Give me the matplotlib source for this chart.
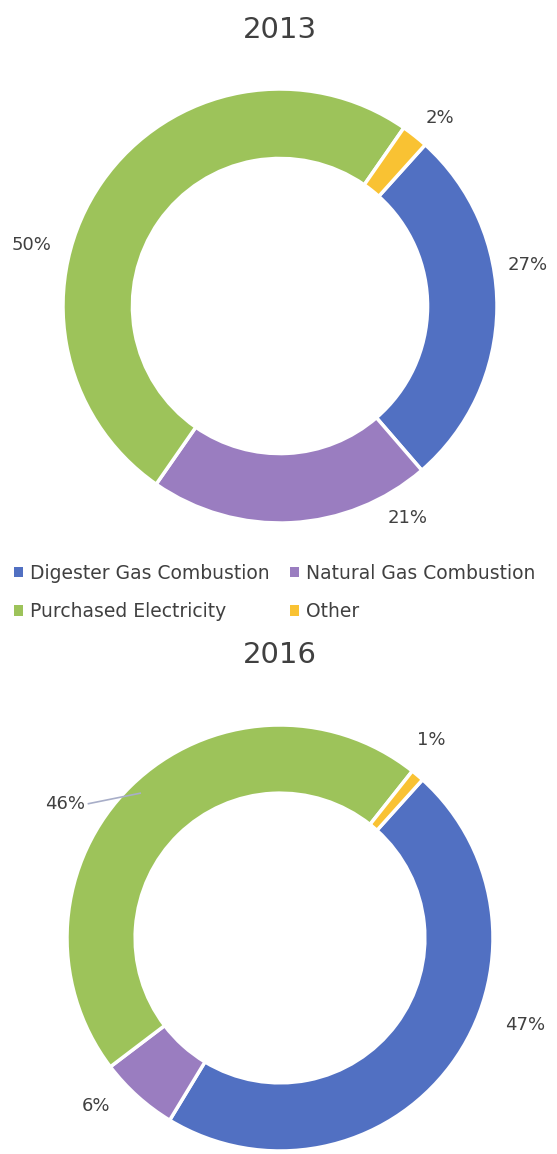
import matplotlib
matplotlib.use("Agg")
import matplotlib.pyplot as plt
from matplotlib.patches import Patch
import numpy as np

categories = ["Digester Gas Combustion", "Natural Gas Combustion", "Purchased Electricity", "Other"]
values_2013 = [27, 21, 50, 2]
values_2016 = [47, 6, 46, 1]
titles = ["2013", "2016"]
colors = ["#5170C2", "#9A7DC0", "#9DC35A", "#F9C233"]

W, H = 557, 1154
fig = plt.figure(figsize=(W / 100, H / 100), dpi=100)
fig.patch.set_facecolor("white")

text_color = "#404040"
font = "DejaVu Sans"


def donut(center_px, radius_px, values, title, title_y, label_pos, leader=None):
    L = 1.25
    S = 2 * L * radius_px
    cx, cy = center_px
    ax = fig.add_axes([(cx - S / 2) / W, (H - cy - S / 2) / H, S / W, S / H])
    wedges, _ = ax.pie(values, colors=colors, startangle=48, counterclock=False,
                       radius=1.0, wedgeprops=dict(width=0.32, edgecolor="white", linewidth=2.5))
    ax.set_xlim(-L, L)
    ax.set_ylim(-L, L)
    ax.set_aspect("equal")
    ax.axis("off")
    for i, (w, v, d) in enumerate(zip(wedges, values, label_pos)):
        base = (w.theta1 + w.theta2) / 2 + d[1]
        ang = np.deg2rad(base)
        r = d[0]
        x, y = r * np.cos(ang), r * np.sin(ang)
        ax.text(x, y, f"{v}%", ha="center", va="center",
                fontsize=13, color=text_color, family=font, zorder=5)
        if leader is not None and leader == i:
            ang2 = np.deg2rad(base - 14)
            ax.plot([x + 0.11, 0.945 * np.cos(ang2)], [y, 0.945 * np.sin(ang2)],
                    color="#a8aec8", lw=1.2, zorder=4)
    fig.text(cx / W, 1 - title_y / H, title, ha="center", va="center",
             fontsize=21, color=text_color, family=font)
    return ax


donut((280, 306), 217, values_2013, titles[0], 30,
      [(1.157, 10), (1.14, 28), (1.18, 21), (1.14, -2)])
donut((280, 938), 213, values_2016, titles[1], 655,
      [(1.22, 17), (1.17, -5.6), (1.19, 13.6), (1.17, 2.7)], leader=2)

# legend (row-wise order: Digester, Natural / Purchased, Other)
order = [0, 2, 1, 3]
handles = [Patch(facecolor=colors[i], edgecolor="none") for i in order]
labels = [categories[i] for i in order]
leg = fig.legend(handles, labels, loc="center left", bbox_to_anchor=(14 / W, 1 - 592.5 / H),
                 ncol=2, frameon=False, handlelength=0.48, handleheight=0.48,
                 handletextpad=0.37, columnspacing=1.1, labelspacing=1.02, borderpad=0,
                 borderaxespad=0, prop={"family": font, "size": 13.5})
for t in leg.get_texts():
    t.set_color(text_color)

fig.savefig("out.png", dpi=100, facecolor="white")
